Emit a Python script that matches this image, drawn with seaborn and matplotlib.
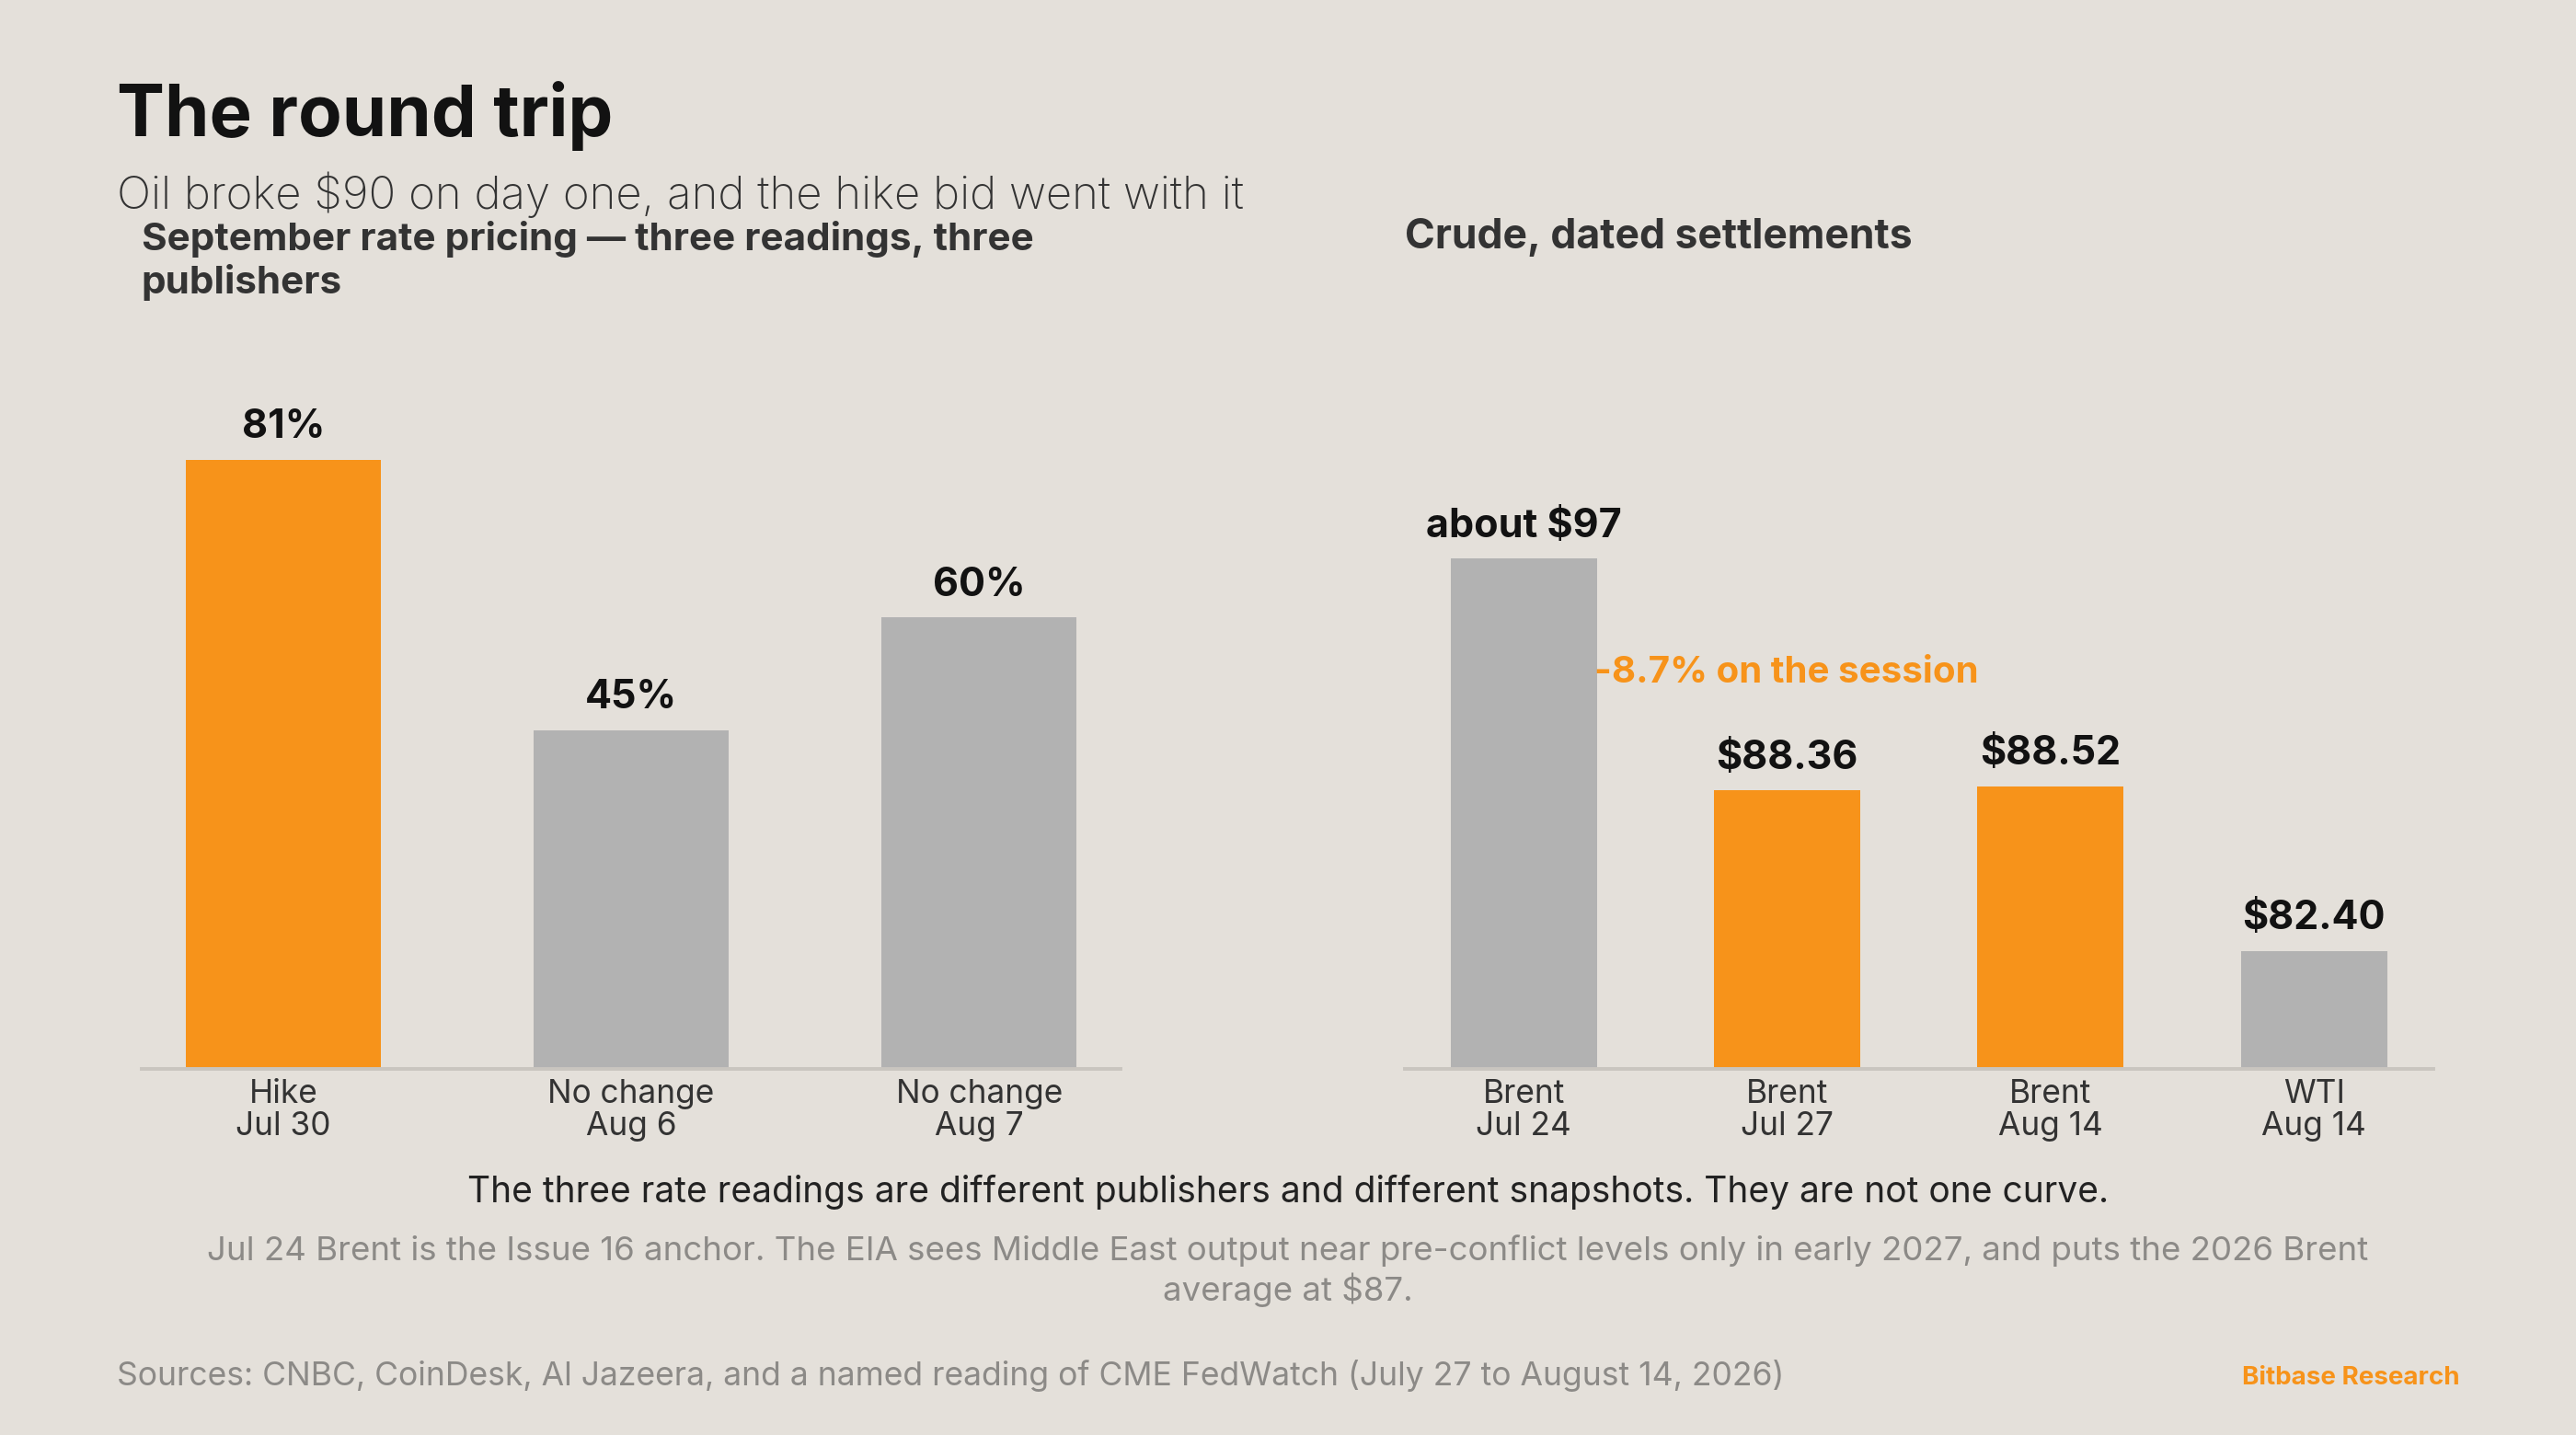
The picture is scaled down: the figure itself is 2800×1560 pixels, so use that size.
import matplotlib
matplotlib.use("Agg")
import matplotlib.pyplot as plt
import seaborn as sns
import pandas as pd

# ---------------- data ----------------
rate_labels = ["Hike\nJul 30", "No change\nAug 6", "No change\nAug 7"]
rate_values = [81, 45, 60]
rate_value_text = ["81%", "45%", "60%"]
rate_highlight = [True, False, False]

crude_labels = ["Brent\nJul 24", "Brent\nJul 27", "Brent\nAug 14", "WTI\nAug 14"]
crude_values = [97.0, 88.36, 88.52, 82.40]
crude_value_text = ["about $97", "$88.36", "$88.52", "$82.40"]
crude_highlight = [False, True, True, False]
session_change = "-8.7% on the session"

title = "The round trip"
subtitle = "Oil broke $90 on day one, and the hike bid went with it"
left_title = "September rate pricing \u2014 three readings, three\npublishers"
right_title = "Crude, dated settlements"
note1 = "The three rate readings are different publishers and different snapshots. They are not one curve."
note2 = ("Jul 24 Brent is the Issue 16 anchor. The EIA sees Middle East output near pre-conflict levels only in early 2027, and puts the 2026 Brent\n"
         "average at $87.")
sources = "Sources: CNBC, CoinDesk, Al Jazeera, and a named reading of CME FedWatch (July 27 to August 14, 2026)"
brand = "Bitbase Research"

# ---------------- style ----------------
ORANGE = "#F7931A"
GRAY = "#B2B2B2"
BG = "#E4E0DA"
DARK = "#121212"
TEXT = "#333333"
MUTED = "#8C8A87"
AXIS = "#C9C5BF"

sns.set_theme(style="white")
plt.rcParams["font.family"] = ["Inter", "DejaVu Sans"]

fig = plt.figure(figsize=(14, 7.8), dpi=200, facecolor=BG)

H = 874.0
W = 1568.0
def fx(x):
    return x / W
def fy(y):
    return 1 - y / H

ax_l = fig.add_axes([fx(86), fy(651), fx(682) - fx(86), fy(193) - fy(651)])
ax_r = fig.add_axes([fx(855), fy(651), fx(1481) - fx(855), fy(193) - fy(651)])

df_l = pd.DataFrame({"label": rate_labels, "value": rate_values})
df_r = pd.DataFrame({"label": crude_labels, "value": crude_values})
pal_l = {l: (ORANGE if h else GRAY) for l, h in zip(rate_labels, rate_highlight)}
pal_r = {l: (ORANGE if h else GRAY) for l, h in zip(crude_labels, crude_highlight)}

sns.barplot(data=df_l, x="label", y="value", hue="label", palette=pal_l,
            legend=False, width=0.56, saturation=1, linewidth=0, ax=ax_l)
sns.barplot(data=df_r, x="label", y="value", hue="label", palette=pal_r,
            legend=False, width=0.556, saturation=1, linewidth=0, ax=ax_r)

ax_l.set_xlim(-0.408, 2.406)
ax_l.set_ylim(0, 100)
ax_r.set_xlim(-0.452, 3.452)
ax_r.set_ylim(78, 106)

for ax, texts, vals in ((ax_l, rate_value_text, rate_values), (ax_r, crude_value_text, crude_values)):
    ax.set_facecolor(BG)
    ax.set_xlabel("")
    ax.set_ylabel("")
    ax.set_yticks([])
    for s in ("top", "left", "right"):
        ax.spines[s].set_visible(False)
    ax.spines["bottom"].set_color(AXIS)
    ax.spines["bottom"].set_linewidth(1.4)
    ax.tick_params(axis="x", length=0, pad=4, labelsize=12.7, labelcolor=TEXT)
    for t in ax.get_xticklabels():
        t.set_linespacing(1.08)
    for i, (txt, v) in enumerate(zip(texts, vals)):
        ax.annotate(txt, xy=(i, v), xytext=(0, 8.5), textcoords="offset points",
                    ha="center", va="baseline", fontsize=15.5, fontweight="bold",
                    color=DARK)

# session change annotation between the first two Brent readings
bw = 0.556
ax_r.annotate(session_change, xy=(0 + bw / 2, (crude_values[0] + crude_values[1]) / 2),
              ha="left", va="baseline", fontsize=14.5, fontweight="bold", color=ORANGE,
              xytext=(-1, -3), textcoords="offset points")

# ---------------- text ----------------
fig.text(fx(71), fy(83), title, fontsize=28, fontweight="bold", color=DARK,
         ha="left", va="baseline")
fig.text(fx(71), fy(127), subtitle, fontsize=17.7, fontweight="light", color=TEXT,
         ha="left", va="baseline")
fig.text(fx(86), fy(179), left_title, fontsize=15.2, fontweight="bold", color=TEXT,
         ha="left", va="baseline", linespacing=1.22)
fig.text(fx(855), fy(151), right_title, fontsize=16, fontweight="bold", color=TEXT,
         ha="left", va="baseline")
fig.text(0.5, fy(732), note1, fontsize=14, fontweight="normal", color="#222222",
         ha="center", va="baseline")
fig.text(0.5, fy(792), note2, fontsize=13.2, color=MUTED, ha="center", va="baseline",
         linespacing=1.2, multialignment="center")
fig.text(fx(71), fy(844), sources, fontsize=12.8, color=MUTED, ha="left", va="baseline")
fig.text(fx(1497), fy(843), brand, fontsize=10, fontweight="bold", color=ORANGE,
         ha="right", va="baseline")

fig.savefig("out.png", dpi=200, facecolor=BG)
